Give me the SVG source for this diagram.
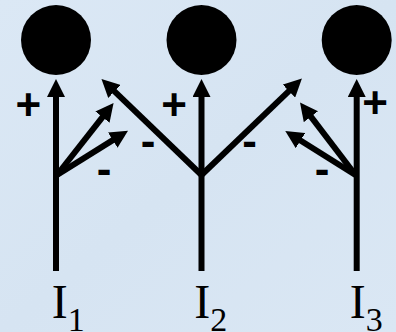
<svg xmlns="http://www.w3.org/2000/svg" width="396" height="332" viewBox="0 0 396 332">
  <defs>
    <marker id="ah" viewBox="0 0 18 18" markerUnits="userSpaceOnUse" markerWidth="18" markerHeight="18" refX="1" refY="9" orient="auto">
      <path d="M0,0 L18,9 L0,18 Z" fill="#000"/>
    </marker>
    <linearGradient id="bg" x1="0" y1="0" x2="1" y2="1">
      <stop offset="0" stop-color="#dbe8f5"/>
      <stop offset="0.5" stop-color="#d6e4f2"/>
      <stop offset="1" stop-color="#dae7f4"/>
    </linearGradient>
  </defs>
  <style>
    .node { fill: #000; }
    .conn line { stroke: #000; stroke-width: 6; fill: none; }
    .sign { font-family: "Liberation Sans", Arial, sans-serif; font-weight: bold; font-size: 44px; fill: #000; text-anchor: middle; }
    .lbl { font-family: "Liberation Serif", "Times New Roman", serif; font-size: 48px; fill: #000; }
    .sub { font-size: 34px; }
  </style>
  <rect width="396" height="332" fill="url(#bg)"/>

  <g id="node1"><circle class="node" cx="56" cy="40" r="35"/></g>
  <g id="node2"><circle class="node" cx="201.5" cy="40" r="35"/></g>
  <g id="node3"><circle class="node" cx="356.7" cy="40" r="35"/></g>

  <g id="connectors" class="conn">
    <line x1="56" y1="271" x2="56" y2="96" marker-end="url(#ah)"/>
    <line x1="201.5" y1="271" x2="201.5" y2="96" marker-end="url(#ah)"/>
    <line x1="356.7" y1="271" x2="356.7" y2="96" marker-end="url(#ah)"/>
    <line x1="57" y1="175" x2="103.07" y2="116.36" marker-end="url(#ah)"/>
    <line x1="57" y1="175" x2="113.61" y2="139.64" marker-end="url(#ah)"/>
    <line x1="201.5" y1="175" x2="113.75" y2="90.7" marker-end="url(#ah)"/>
    <line x1="201.5" y1="175" x2="289.64" y2="90.39" marker-end="url(#ah)"/>
    <line x1="355.5" y1="175" x2="310.34" y2="115.9" marker-end="url(#ah)"/>
    <line x1="355.5" y1="175" x2="299.69" y2="140.06" marker-end="url(#ah)"/>
  </g>

  <g id="signs">
    <text class="sign" x="28.3" y="119.6">+</text>
    <text class="sign" x="174.2" y="120.4">+</text>
    <text class="sign" x="375.2" y="117.9">+</text>
    <text class="sign" x="104.2" y="184">-</text>
    <text class="sign" x="148.2" y="156.3">-</text>
    <text class="sign" x="249.5" y="156">-</text>
    <text class="sign" x="322" y="184">-</text>
  </g>

  <g id="labels">
    <text class="lbl" x="51.8" y="318">I<tspan class="sub" dy="13">1</tspan></text>
    <text class="lbl" x="194.2" y="318">I<tspan class="sub" dy="13">2</tspan></text>
    <text class="lbl" x="349.8" y="318">I<tspan class="sub" dy="13">3</tspan></text>
  </g>
</svg>
